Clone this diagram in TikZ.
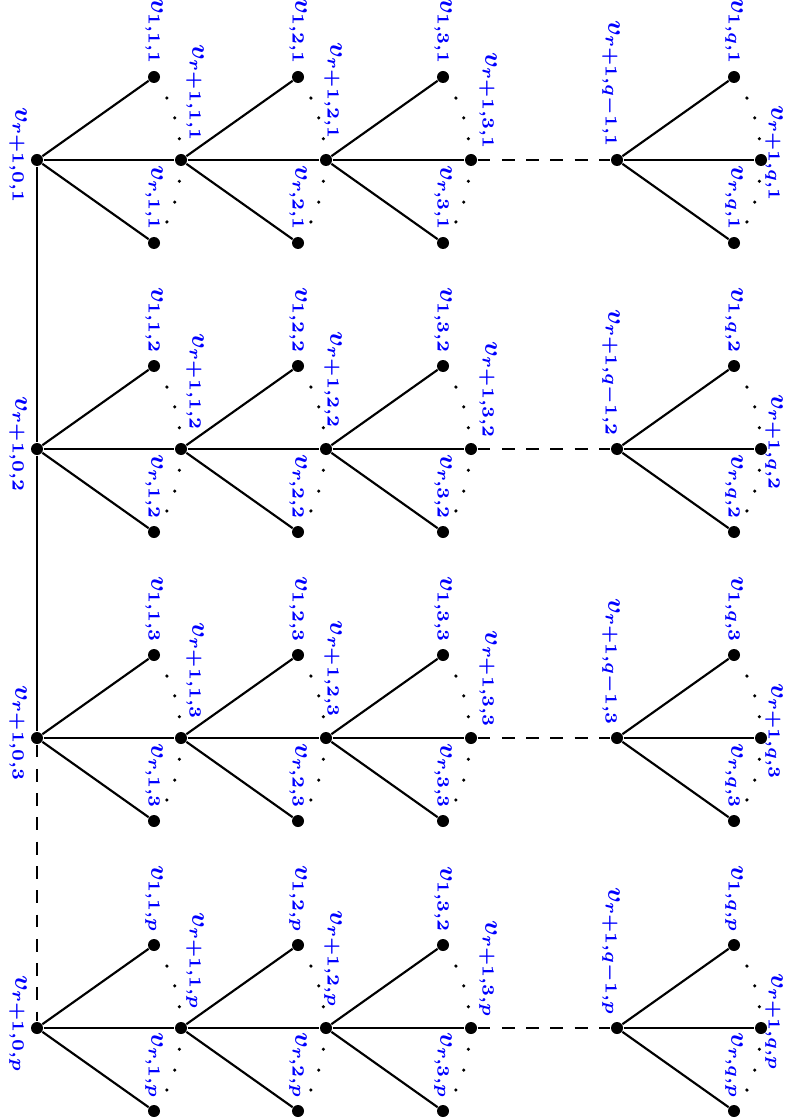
\documentclass[tikz,border=0pt]{standalone}
\usetikzlibrary{calc}
\begin{document}
\begin{tikzpicture}[x=0.35pt,y=-0.35pt,
  vtx/.style={circle,fill=black,inner sep=0pt,minimum size=4.2pt},
  edge/.style={line width=0.75pt},
  dashedge/.style={line width=0.75pt,dash pattern=on 4.5pt off 4pt},
  lbl/.style={text=blue,font=\small\boldmath,rotate=-90,inner sep=0pt}]
\useasboundingbox (0,0) rectangle (790,1120);
\foreach \y/\s/\t [count=\i] in {160/1/1,449/2/2,738/3/3,1028/p/2} {
  \foreach \x/\k in {37/0,181/1,326/2,471/3,617/4,761/5}
    \node[vtx] (N\i-\k) at (\x,\y) {};
  \foreach \p/\c/\col/\ts in {0/1/1/\s,1/2/2/\s,2/3/3/\t,4/5/q/\s} {
    \node[vtx] (T\i-\c) at ($(N\i-\p)+(117,-83)$) {};
    \node[vtx] (B\i-\c) at ($(N\i-\p)+(117,83)$) {};
    \draw[edge] (N\i-\p) -- (T\i-\c);
    \draw[edge] (N\i-\p) -- (B\i-\c);
    \draw[edge] (N\i-\p) -- (N\i-\c);
    \foreach \a in {-25.5,-17,-8.5,8.5,17,25.5}
      \fill ($(N\i-\p)+(\a:144)$) circle (0.62pt);
    \node[lbl,anchor=east] at ($(T\i-\c)+(0,-12)$) {$v_{1,\col,\ts}$};
    \node[lbl,anchor=east] at ($(B\i-\c)+(0,-12)$) {$v_{r,\col,\s}$};
  }
  \draw[dashedge] (N\i-3) -- (N\i-4);
  \node[lbl] at ($(N\i-0)+(-19,-4)$) {$v_{r+1,0,\s}$};
  \node[lbl,anchor=east] at ($(N\i-1)+(14,-18)$) {$v_{r+1,1,\s}$};
  \node[lbl,anchor=east] at ($(N\i-2)+(7,-20)$) {$v_{r+1,2,\s}$};
  \node[lbl,anchor=east] at ($(N\i-3)+(17,-10)$) {$v_{r+1,3,\s}$};
  \node[lbl,anchor=east] at ($(N\i-4)+(-6,-12)$) {$v_{r+1,q-1,\s}$};
  \node[lbl] at ($(N\i-5)+(13,-6)$) {$v_{r+1,q,\s}$};
}
\draw[edge] (N1-0) -- (N2-0);
\draw[edge] (N2-0) -- (N3-0);
\draw[dashedge] (N3-0) -- (N4-0);
\end{tikzpicture}
\end{document}
